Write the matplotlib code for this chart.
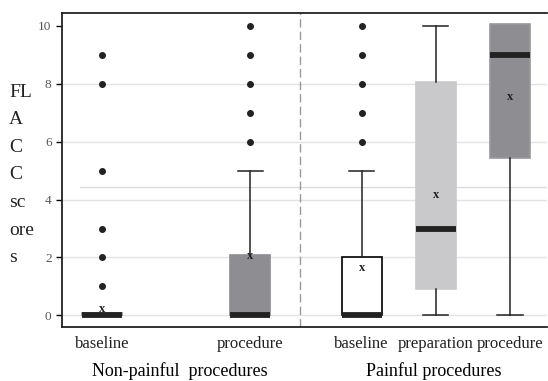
import numpy as np
import matplotlib.pyplot as plt

# FLACC scores
positions = [0, 2, 3.5, 4.5, 5.5]
tick_labels = ['baseline', 'procedure', 'baseline', 'preparation', 'procedure']
q1 = [0, 0, 0, 0.92, 5.45]
med = [0, 0, 0, 3, 9]
q3 = [0.1, 2.1, 2.0, 8.05, 10.05]
wlo = [0, 0, 0, 0, 0]
whi = [0.1, 5, 5, 10, 10.05]
means = [0.22, 2.05, 1.65, 4.15, 7.55]
fliers = [[1, 2, 3, 5, 8, 9], [6, 7, 8, 9, 10], [6, 7, 8, 9, 10], [], []]
box_colors = ['#8e8e92', '#8e8e92', 'white', '#c9c9cb', '#8e8e92']
box_edges = ['#8e8e92', '#8e8e92', 'black', '#c9c9cb', '#9a9a9e']
show_hicap = [False, True, True, True, False]
show_lowcap = [False, False, False, True, True]

groups = ['Non-painful  procedures', 'Painful procedures']

plt.rcParams['font.family'] = ['Liberation Serif', 'DejaVu Serif']

fig = plt.figure(figsize=(5.48, 3.81), dpi=100)
ax = fig.add_axes([62 / 548, 1 - 327 / 381, 485 / 548, 314 / 381])

for i in range(len(positions)):
    st = dict(med=med[i], q1=q1[i], q3=q3[i], whislo=wlo[i], whishi=whi[i],
              fliers=fliers[i], mean=means[i])
    ax.bxp([st], positions=[positions[i]], widths=0.54, patch_artist=True,
           showcaps=False, showfliers=True, manage_ticks=False,
           boxprops=dict(facecolor=box_colors[i], edgecolor=box_edges[i], linewidth=1.2),
           medianprops=dict(color='#222222', linewidth=4.2, solid_capstyle='butt'),
           whiskerprops=dict(color='#222222', linewidth=1.1),
           flierprops=dict(marker='o', markerfacecolor='#222222', markeredgecolor='#222222',
                           markersize=4))
    if show_hicap[i]:
        ax.plot([positions[i] - 0.17, positions[i] + 0.17], [whi[i], whi[i]],
                color='#222222', lw=1.1)
    if show_lowcap[i]:
        ax.plot([positions[i] - 0.17, positions[i] + 0.17], [wlo[i], wlo[i]],
                color='#222222', lw=1.1)
    ax.text(positions[i], means[i], 'x', ha='center', va='center', fontsize=9,
            fontweight='bold', color='#222222', zorder=5)

ax.set_xlim(-0.54, 6.0)
ax.set_ylim(-0.4, 10.44)
ax.set_yticks(range(0, 11, 2))
ax.set_xticks([])
ax.tick_params(axis='y', labelsize=9.5, labelcolor='#555555', length=4, width=1)
for y in range(0, 10, 2):
    ax.axhline(y, color='#e2e2e2', lw=1, zorder=0)
ax.axhline(4.42, xmin=0.037, color='#dcdcdc', lw=1, zorder=0)
ax.axvline(2.67, color='#999999', lw=1, dashes=(6, 3), zorder=0)

ax.spines['right'].set_visible(False)
for s in ['left', 'top', 'bottom']:
    ax.spines[s].set_linewidth(1.3)
    ax.spines[s].set_color('#222222')

for p, lab in zip(positions, tick_labels):
    ax.text(p, -0.4 - 17 / 29, lab, ha='center', va='center', fontsize=12, color='#222222')

fig.text(180 / 548, 1 - 371 / 381, groups[0], ha='center', va='center', fontsize=13)
fig.text(434 / 548, 1 - 371 / 381, groups[1], ha='center', va='center', fontsize=13)

fig.text(9 / 548, 1 - 175 / 381, 'FL\nA\nC\nC\nsc\nore\ns', ha='left', va='center',
         fontsize=14, linespacing=1.81, color='#222222')

fig.savefig('out.png', dpi=100)
